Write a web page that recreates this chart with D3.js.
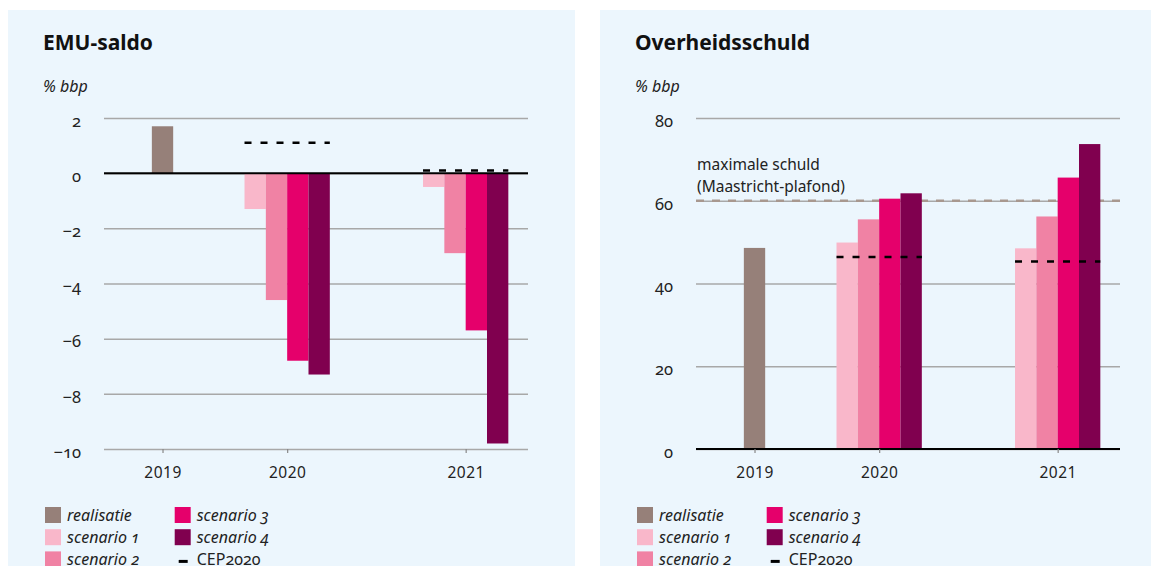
<!DOCTYPE html>
<html>
<head>
<meta charset="utf-8">
<script src="https://cdn.jsdelivr.net/npm/d3@7"></script>
<style>
  body { margin: 0; background: #fff; }
  svg { display: block; font-family: "Noto Sans", "Open Sans", sans-serif; }
  .onum { font-variant-numeric: oldstyle-nums; }
</style>
</head>
<body>
<div class="canvas"></div>
<script>
// data
const years = ["2019", "2020", "2021"];
const scenarioKeys = ["scenario 1", "scenario 2", "scenario 3", "scenario 4"];
const legendKeys = ["realisatie", "scenario 1", "scenario 2", "scenario 3", "scenario 4", "CEP2020"];

// EMU-saldo (% bbp)
const emuRealisatie2019 = 1.7;
const emuScenario1 = [-1.3, -0.5]; // 2020, 2021
const emuScenario2 = [-4.6, -2.9];
const emuScenario3 = [-6.8, -5.7];
const emuScenario4 = [-7.3, -9.8];
const emuCep2020 = [1.1, 0.1];
const emuTicks = [-10, -8, -6, -4, -2, 0, 2];

// Overheidsschuld (% bbp)
const schuldRealisatie2019 = 48.6;
const schuldScenario1 = [49.9, 48.5];
const schuldScenario2 = [55.5, 56.2];
const schuldScenario3 = [60.5, 65.6];
const schuldScenario4 = [61.8, 73.7];
const schuldCep2020 = [46.4, 45.3];
const schuldTicks = [0, 20, 40, 60, 80];
const maastricht = 60;

const colors = {
  realisatie: "#968079",
  "scenario 1": "#f9b7ca",
  "scenario 2": "#f082a4",
  "scenario 3": "#e5006b",
  "scenario 4": "#80004f"
};

const svgWidth = 1151;
const svgHeight = 566;
const panelW = 567;
const plot = { l: 96, t: 108, w: 424, h: 331 };
const groupPos = [0.138, 0.432, 0.853];
const barFrac = 0.0503;

const svg = d3
  .select(".canvas")
  .append("svg")
  .attr("width", svgWidth)
  .attr("height", svgHeight);

const drawPanel = cfg => {
  const panel = svg.append("g").attr("transform", `translate(${cfg.x}, 10)`);

  panel
    .append("rect")
    .attr("width", panelW)
    .attr("height", svgHeight)
    .attr("fill", "#ecf6fd");

  panel
    .append("text")
    .attr("x", 35)
    .attr("y", 40)
    .attr("font-size", 21)
    .attr("font-weight", "bold")
    .attr("fill", "#111")
    .text(cfg.title);

  panel
    .append("text")
    .attr("x", 35)
    .attr("y", 82)
    .attr("font-size", 16)
    .attr("font-style", "italic")
    .attr("fill", "#222")
    .text("% bbp");

  const g = panel.append("g").attr("transform", `translate(${plot.l}, ${plot.t})`);

  const y = d3.scaleLinear().domain(cfg.domain).range([plot.h, 0]);
  const x = d3
    .scaleOrdinal()
    .domain(years)
    .range(groupPos.map(f => f * plot.w));
  const bw = plot.w * barFrac;
  const inner = d3
    .scaleBand()
    .domain(scenarioKeys)
    .range([-2 * bw, 2 * bw]);

  const yAxis = d3
    .axisLeft(y)
    .tickValues(cfg.ticks)
    .tickSize(-plot.w)
    .tickPadding(23)
    .tickFormat(d3.format("d"));

  const yAxisGroup = g.append("g").attr("class", "y-axis").call(yAxis);
  yAxisGroup.select(".domain").remove();
  yAxisGroup
    .selectAll("line")
    .attr("stroke", "#a8a8a8")
    .attr("stroke-width", 1.5);
  yAxisGroup
    .selectAll("text")
    .attr("class", "onum")
    .attr("font-size", 16.5)
    .attr("font-family", "Noto Sans")
    .attr("fill", "#222")
    .attr("dy", "0.5em");

  if (cfg.ref != null) {
    g.append("line")
      .attr("x1", 0)
      .attr("x2", plot.w)
      .attr("y1", y(cfg.ref))
      .attr("y2", y(cfg.ref))
      .attr("stroke", "#a8988f")
      .attr("stroke-width", 2.5)
      .attr("stroke-dasharray", "8 8");
    g.append("text")
      .attr("x", 1)
      .attr("y", y(cfg.ref) - 31)
      .attr("font-size", 15.5)
      .attr("fill", "#222")
      .text("maximale schuld");
    g.append("text")
      .attr("x", 1)
      .attr("y", y(cfg.ref) - 9)
      .attr("font-size", 15.5)
      .attr("fill", "#222")
      .text("(Maastricht-plafond)");
  }

  const rows = [{ year: "2019", key: "realisatie", value: cfg.realisatie }];
  scenarioKeys.forEach((k, j) => {
    cfg.scenarios[j].forEach((v, i) => rows.push({ year: years[i + 1], key: k, value: v }));
  });

  g.selectAll("rect.bar")
    .data(rows)
    .enter()
    .append("rect")
    .attr("class", "bar")
    .attr("x", d => x(d.year) + (d.key === "realisatie" ? -bw / 2 : inner(d.key)))
    .attr("width", bw)
    .attr("y", d => y(Math.max(0, d.value)))
    .attr("height", d => Math.abs(y(d.value) - y(0)))
    .attr("fill", d => colors[d.key]);

  // zero line
  g.append("line")
    .attr("x1", 0)
    .attr("x2", plot.w)
    .attr("y1", y(0))
    .attr("y2", y(0))
    .attr("stroke", "#000")
    .attr("stroke-width", 2);

  // CEP2020 dashes
  g.selectAll("line.cep")
    .data(cfg.cep.map((v, i) => ({ year: years[i + 1], value: v })))
    .enter()
    .append("line")
    .attr("class", "cep")
    .attr("x1", d => x(d.year) - 2 * bw)
    .attr("x2", d => x(d.year) + 2 * bw)
    .attr("y1", d => y(d.value))
    .attr("y2", d => y(d.value))
    .attr("stroke", "#000")
    .attr("stroke-width", 2.5)
    .attr("stroke-dasharray", "7 9");

  const xAxis = d3.axisBottom(x).tickSize(4).tickPadding(14);
  const xAxisGroup = g
    .append("g")
    .attr("class", "x-axis")
    .attr("transform", `translate(0, ${plot.h})`)
    .call(xAxis);
  xAxisGroup.select(".domain").remove();
  xAxisGroup.selectAll("line").attr("stroke", "#888").attr("stroke-width", 1.2);
  xAxisGroup
    .selectAll("text")
    .attr("font-size", 15.5)
    .attr("font-family", "Noto Sans")
    .attr("letter-spacing", 0.5)
    .attr("fill", "#222");

  // legend
  const legend = panel.append("g").attr("transform", "translate(37, 497)");
  const items = legend
    .selectAll("g")
    .data(legendKeys)
    .enter()
    .append("g")
    .attr("transform", (d, i) => `translate(${Math.floor(i / 3) * 129.7}, ${(i % 3) * 22.2})`);

  items
    .filter(d => d !== "CEP2020")
    .append("rect")
    .attr("width", 16)
    .attr("height", 16)
    .attr("fill", d => colors[d]);

  items
    .filter(d => d === "CEP2020")
    .append("line")
    .attr("x1", 4)
    .attr("x2", 13)
    .attr("y1", 10)
    .attr("y2", 10)
    .attr("stroke", "#000")
    .attr("stroke-width", 3);

  items
    .append("text")
    .attr("class", "onum")
    .attr("x", 22)
    .attr("y", 14)
    .attr("font-size", 16)
    .attr("font-style", d => (d === "CEP2020" ? "normal" : "italic"))
    .attr("fill", "#222")
    .text(d => d);
};

drawPanel({
  x: 8,
  title: "EMU-saldo",
  domain: [-10, 2],
  ticks: emuTicks,
  realisatie: emuRealisatie2019,
  scenarios: [emuScenario1, emuScenario2, emuScenario3, emuScenario4],
  cep: emuCep2020,
  ref: null
});

drawPanel({
  x: 600,
  title: "Overheidsschuld",
  domain: [0, 80],
  ticks: schuldTicks,
  realisatie: schuldRealisatie2019,
  scenarios: [schuldScenario1, schuldScenario2, schuldScenario3, schuldScenario4],
  cep: schuldCep2020,
  ref: maastricht
});
</script>
</body>
</html>
